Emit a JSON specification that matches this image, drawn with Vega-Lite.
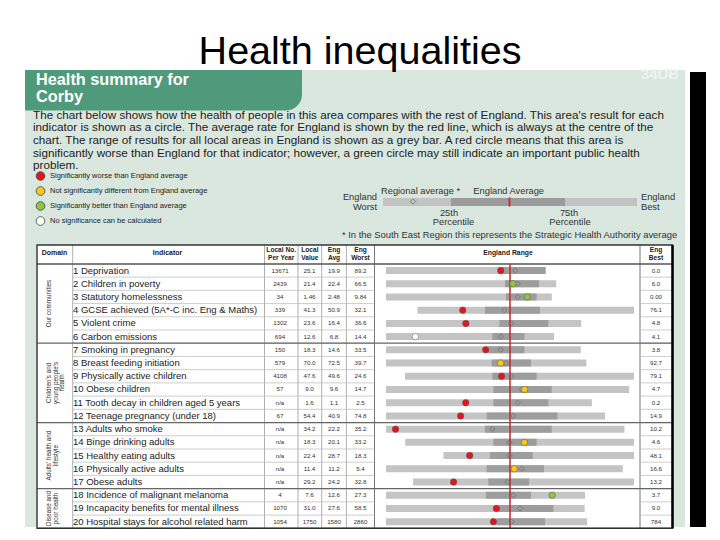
{
"$schema":"https://vega.github.io/schema/vega-lite/v6.json",
"width":720,"height":540,"padding":0,"autosize":{"type":"none"},
"background":"white",
"config":{"font":"Liberation Sans","view":{"stroke":null},"axis":{"disable":true}},
"resolve":{"scale":{"x":"independent","y":"independent"}},
"datasets":{
"one":[{}],
"ind":[
{"n":1,"label":"1 Deprivation","domain":"Our communities","localNo":"13671","localValue":"25.1","engAvg":"19.9","engWorst":"89.2","engBest":"0.0","sig":"Significantly worse than England average","worstN":-1,"p25N":-0.08,"p75N":0.287,"bestN":0.287,"regN":0.043,"localN":-0.075},
{"n":2,"label":"2 Children in poverty","domain":"Our communities","localNo":"2439","localValue":"21.4","engAvg":"22.4","engWorst":"66.5","engBest":"6.0","sig":"Significantly better than England average","worstN":-1,"p25N":-0.04,"p75N":0.234,"bestN":0.372,"regN":0.062,"localN":0.023},
{"n":3,"label":"3 Statutory homelessness","domain":"Our communities","localNo":"34","localValue":"1.46","engAvg":"2.48","engWorst":"9.84","engBest":"0.00","sig":"Significantly better than England average","worstN":-1,"p25N":-0.032,"p75N":0.215,"bestN":0.337,"regN":0.062,"localN":0.139},
{"n":4,"label":"4 GCSE achieved (5A*-C inc. Eng & Maths)","domain":"Our communities","localNo":"339","localValue":"41.3","engAvg":"50.9","engWorst":"32.1","engBest":"76.1","sig":"Significantly worse than England average","worstN":-0.746,"p25N":-0.202,"p75N":0.242,"bestN":1,"regN":-0.046,"localN":-0.381},
{"n":5,"label":"5 Violent crime","domain":"Our communities","localNo":"1302","localValue":"23.6","engAvg":"16.4","engWorst":"36.6","engBest":"4.8","sig":"Significantly worse than England average","worstN":-1,"p25N":-0.086,"p75N":0.309,"bestN":0.574,"regN":0.011,"localN":-0.356},
{"n":6,"label":"6 Carbon emissions","domain":"Our communities","localNo":"694","localValue":"12.6","engAvg":"6.8","engWorst":"14.4","engBest":"4.1","sig":"No significance can be calculated","worstN":-1,"p25N":-0.142,"p75N":0.116,"bestN":0.355,"regN":-0.073,"localN":-0.763},
{"n":7,"label":"7 Smoking in pregnancy","domain":"Children's and\nyoung people's\nhealth","localNo":"150","localValue":"18.3","engAvg":"14.6","engWorst":"33.5","engBest":"3.8","sig":"Significantly worse than England average","worstN":-1,"p25N":-0.175,"p75N":0.116,"bestN":0.571,"regN":-0.075,"localN":-0.196},
{"n":8,"label":"8 Breast feeding initiation","domain":"Children's and\nyoung people's\nhealth","localNo":"579","localValue":"70.0","engAvg":"72.5","engWorst":"39.7","engBest":"92.7","sig":"Not significantly different from England average","worstN":-1,"p25N":-0.148,"p75N":0.169,"bestN":0.616,"regN":-0.032,"localN":-0.076},
{"n":9,"label":"9 Physically active children","domain":"Children's and\nyoung people's\nhealth","localNo":"4108","localValue":"47.6","engAvg":"49.6","engWorst":"24.6","engBest":"79.1","sig":"Significantly worse than England average","worstN":-0.847,"p25N":-0.142,"p75N":0.215,"bestN":1,"regN":0.011,"localN":-0.068},
{"n":10,"label":"10 Obese children","domain":"Children's and\nyoung people's\nhealth","localNo":"57","localValue":"9.0","engAvg":"9.6","engWorst":"14.7","engBest":"4.7","sig":"Not significantly different from England average","worstN":-1,"p25N":-0.134,"p75N":0.336,"bestN":0.961,"regN":0.094,"localN":0.118},
{"n":11,"label":"11 Tooth decay in children aged 5 years","domain":"Children's and\nyoung people's\nhealth","localNo":"n/a","localValue":"1.6","engAvg":"1.1","engWorst":"2.5","engBest":"0.2","sig":"Significantly worse than England average","worstN":-1,"p25N":-0.134,"p75N":0.309,"bestN":0.66,"regN":0.062,"localN":-0.357},
{"n":12,"label":"12 Teenage pregnancy (under 18)","domain":"Children's and\nyoung people's\nhealth","localNo":"67","localValue":"54.4","engAvg":"40.9","engWorst":"74.8","engBest":"14.9","sig":"Significantly worse than England average","worstN":-1,"p25N":-0.188,"p75N":0.382,"bestN":0.767,"regN":0.027,"localN":-0.398},
{"n":13,"label":"13 Adults who smoke","domain":"Adults' health and\nlifestyle","localNo":"n/a","localValue":"34.2","engAvg":"22.2","engWorst":"35.2","engBest":"10.2","sig":"Significantly worse than England average","worstN":-1,"p25N":-0.202,"p75N":0.336,"bestN":0.923,"regN":-0.142,"localN":-0.923},
{"n":14,"label":"14 Binge drinking adults","domain":"Adults' health and\nlifestyle","localNo":"n/a","localValue":"18.3","engAvg":"20.1","engWorst":"33.2","engBest":"4.6","sig":"Not significantly different from England average","worstN":-0.845,"p25N":-0.134,"p75N":0.215,"bestN":1,"regN":-0.005,"localN":0.116},
{"n":15,"label":"15 Healthy eating adults","domain":"Adults' health and\nlifestyle","localNo":"n/a","localValue":"22.4","engAvg":"28.7","engWorst":"18.3","engBest":"48.1","sig":"Significantly worse than England average","worstN":-0.536,"p25N":-0.161,"p75N":0.183,"bestN":1,"regN":-0.005,"localN":-0.325},
{"n":16,"label":"16 Physically active adults","domain":"Adults' health and\nlifestyle","localNo":"n/a","localValue":"11.4","engAvg":"11.2","engWorst":"5.4","engBest":"16.6","sig":"Not significantly different from England average","worstN":-1,"p25N":-0.188,"p75N":0.274,"bestN":0.91,"regN":0.094,"localN":0.034},
{"n":17,"label":"17 Obese adults","domain":"Adults' health and\nlifestyle","localNo":"n/a","localValue":"29.2","engAvg":"24.2","engWorst":"32.8","engBest":"13.2","sig":"Significantly worse than England average","worstN":-0.782,"p25N":-0.175,"p75N":0.153,"bestN":1,"regN":-0.022,"localN":-0.455},
{"n":18,"label":"18 Incidence of malignant melanoma","domain":"Disease and\npoor health","localNo":"4","localValue":"7.6","engAvg":"12.6","engWorst":"27.3","engBest":"3.7","sig":"Significantly better than England average","worstN":-1,"p25N":-0.194,"p75N":0.169,"bestN":0.605,"regN":0.027,"localN":0.34},
{"n":19,"label":"19 Incapacity benefits for mental illness","domain":"Disease and\npoor health","localNo":"1070","localValue":"31.0","engAvg":"27.6","engWorst":"58.5","engBest":"9.0","sig":"Significantly worse than England average","worstN":-1,"p25N":-0.094,"p75N":0.349,"bestN":0.602,"regN":0.081,"localN":-0.11},
{"n":20,"label":"20 Hospital stays for alcohol related harm","domain":"Disease and\npoor health","localNo":"1054","localValue":"1750","engAvg":"1580","engWorst":"2860","engBest":"784","sig":"Significantly worse than England average","worstN":-1,"p25N":-0.108,"p75N":0.282,"bestN":0.622,"regN":0.013,"localN":-0.133}
]},
"layer":[
{"data":{"name":"one"},"mark":{"type":"rect","color":"#d9e7de"},"encoding":{"x":{"datum":25,"type":"quantitative","scale":{"domain":[0,720],"range":[0,720],"nice":false,"zero":false}},"x2":{"datum":685},"y":{"datum":70,"type":"quantitative","scale":{"domain":[0,540],"range":[0,540],"nice":false,"zero":false}},"y2":{"datum":527}}},
{"data":{"name":"one"},"mark":{"type":"rect","color":"#4f9a7a","cornerRadiusBottomRight":16},"encoding":{"x":{"datum":25,"type":"quantitative","scale":{"domain":[0,720],"range":[0,720],"nice":false,"zero":false}},"x2":{"datum":302},"y":{"datum":70,"type":"quantitative","scale":{"domain":[0,540],"range":[0,540],"nice":false,"zero":false}},"y2":{"datum":110.5}}},
{"data":{"name":"one"},"mark":{"type":"rect","color":"#000000"},"encoding":{"x":{"datum":690,"type":"quantitative","scale":{"domain":[0,720],"range":[0,720],"nice":false,"zero":false}},"x2":{"datum":706},"y":{"datum":72,"type":"quantitative","scale":{"domain":[0,540],"range":[0,540],"nice":false,"zero":false}},"y2":{"datum":527}}},
{"data":{"name":"one"},"mark":{"type":"text","text":"34UB","fontSize":15,"fontWeight":"bold","align":"center","baseline":"alphabetic","color":"#eef4f0"},"encoding":{"x":{"datum":660,"type":"quantitative","scale":{"domain":[0,720],"range":[0,720],"nice":false,"zero":false}},"y":{"datum":79,"type":"quantitative","scale":{"domain":[0,540],"range":[0,540],"nice":false,"zero":false}}}},
{"data":{"name":"one"},"mark":{"type":"text","text":"Health inequalities","fontSize":39.5,"align":"center","baseline":"alphabetic","color":"#000000"},"encoding":{"x":{"datum":360,"type":"quantitative","scale":{"domain":[0,720],"range":[0,720],"nice":false,"zero":false}},"y":{"datum":64,"type":"quantitative","scale":{"domain":[0,540],"range":[0,540],"nice":false,"zero":false}}}},
{"data":{"name":"one"},"mark":{"type":"text","text":"Health summary for","fontSize":16.3,"fontWeight":"bold","align":"left","baseline":"middle","color":"#ffffff"},"encoding":{"x":{"datum":36,"type":"quantitative","scale":{"domain":[0,720],"range":[0,720],"nice":false,"zero":false}},"y":{"datum":80,"type":"quantitative","scale":{"domain":[0,540],"range":[0,540],"nice":false,"zero":false}}}},
{"data":{"name":"one"},"mark":{"type":"text","text":"Corby","fontSize":16.3,"fontWeight":"bold","align":"left","baseline":"middle","color":"#ffffff"},"encoding":{"x":{"datum":36,"type":"quantitative","scale":{"domain":[0,720],"range":[0,720],"nice":false,"zero":false}},"y":{"datum":96.5,"type":"quantitative","scale":{"domain":[0,540],"range":[0,540],"nice":false,"zero":false}}}},
{"data":{"name":"one"},"mark":{"type":"text","text":"The chart below shows how the health of people in this area compares with the rest of England. This area's result for each","fontSize":11.7,"align":"left","baseline":"middle","color":"#222222"},"encoding":{"x":{"datum":33,"type":"quantitative","scale":{"domain":[0,720],"range":[0,720],"nice":false,"zero":false}},"y":{"datum":114.5,"type":"quantitative","scale":{"domain":[0,540],"range":[0,540],"nice":false,"zero":false}}}},
{"data":{"name":"one"},"mark":{"type":"text","text":"indicator is shown as a circle. The average rate for England is shown by the red line, which is always at the centre of the","fontSize":11.7,"align":"left","baseline":"middle","color":"#222222"},"encoding":{"x":{"datum":33,"type":"quantitative","scale":{"domain":[0,720],"range":[0,720],"nice":false,"zero":false}},"y":{"datum":127.2,"type":"quantitative","scale":{"domain":[0,540],"range":[0,540],"nice":false,"zero":false}}}},
{"data":{"name":"one"},"mark":{"type":"text","text":"chart. The range of results for all local areas in England is shown as a grey bar. A red circle means that this area is","fontSize":11.7,"align":"left","baseline":"middle","color":"#222222"},"encoding":{"x":{"datum":33,"type":"quantitative","scale":{"domain":[0,720],"range":[0,720],"nice":false,"zero":false}},"y":{"datum":139.9,"type":"quantitative","scale":{"domain":[0,540],"range":[0,540],"nice":false,"zero":false}}}},
{"data":{"name":"one"},"mark":{"type":"text","text":"significantly worse than England for that indicator; however, a green circle may still indicate an important public health","fontSize":11.7,"align":"left","baseline":"middle","color":"#222222"},"encoding":{"x":{"datum":33,"type":"quantitative","scale":{"domain":[0,720],"range":[0,720],"nice":false,"zero":false}},"y":{"datum":152.6,"type":"quantitative","scale":{"domain":[0,540],"range":[0,540],"nice":false,"zero":false}}}},
{"data":{"name":"one"},"mark":{"type":"text","text":"problem.","fontSize":11.7,"align":"left","baseline":"middle","color":"#222222"},"encoding":{"x":{"datum":33,"type":"quantitative","scale":{"domain":[0,720],"range":[0,720],"nice":false,"zero":false}},"y":{"datum":165.2,"type":"quantitative","scale":{"domain":[0,540],"range":[0,540],"nice":false,"zero":false}}}},
{"data":{"name":"one"},"mark":{"type":"rule","color":"#c3c3c3","strokeWidth":8},"encoding":{"x":{"datum":383,"type":"quantitative","scale":{"domain":[0,720],"range":[0,720],"nice":false,"zero":false}},"x2":{"datum":637},"y":{"datum":202,"type":"quantitative","scale":{"domain":[0,540],"range":[0,540],"nice":false,"zero":false}}}},
{"data":{"name":"one"},"mark":{"type":"rule","color":"#9b9b9b","strokeWidth":8},"encoding":{"x":{"datum":451,"type":"quantitative","scale":{"domain":[0,720],"range":[0,720],"nice":false,"zero":false}},"x2":{"datum":565},"y":{"datum":202,"type":"quantitative","scale":{"domain":[0,540],"range":[0,540],"nice":false,"zero":false}}}},
{"data":{"name":"one"},"mark":{"type":"rule","color":"#d2232a","strokeWidth":1.8},"encoding":{"x":{"datum":509.5,"type":"quantitative","scale":{"domain":[0,720],"range":[0,720],"nice":false,"zero":false}},"y":{"datum":197.5,"type":"quantitative","scale":{"domain":[0,540],"range":[0,540],"nice":false,"zero":false}},"y2":{"datum":206.5}}},
{"data":{"name":"one"},"mark":{"type":"point","shape":"diamond","size":30,"filled":false,"stroke":"#666666","strokeWidth":1},"encoding":{"x":{"datum":413,"type":"quantitative","scale":{"domain":[0,720],"range":[0,720],"nice":false,"zero":false}},"y":{"datum":201.5,"type":"quantitative","scale":{"domain":[0,540],"range":[0,540],"nice":false,"zero":false}}}},
{"data":{"name":"one"},"mark":{"type":"text","text":"England","fontSize":9.3,"align":"right","baseline":"middle","color":"#333333"},"encoding":{"x":{"datum":377,"type":"quantitative","scale":{"domain":[0,720],"range":[0,720],"nice":false,"zero":false}},"y":{"datum":196.7,"type":"quantitative","scale":{"domain":[0,540],"range":[0,540],"nice":false,"zero":false}}}},
{"data":{"name":"one"},"mark":{"type":"text","text":"Worst","fontSize":9.3,"align":"right","baseline":"middle","color":"#333333"},"encoding":{"x":{"datum":377,"type":"quantitative","scale":{"domain":[0,720],"range":[0,720],"nice":false,"zero":false}},"y":{"datum":206.7,"type":"quantitative","scale":{"domain":[0,540],"range":[0,540],"nice":false,"zero":false}}}},
{"data":{"name":"one"},"mark":{"type":"text","text":"Regional average *","fontSize":9.3,"align":"left","baseline":"middle","color":"#333333"},"encoding":{"x":{"datum":381,"type":"quantitative","scale":{"domain":[0,720],"range":[0,720],"nice":false,"zero":false}},"y":{"datum":190.5,"type":"quantitative","scale":{"domain":[0,540],"range":[0,540],"nice":false,"zero":false}}}},
{"data":{"name":"one"},"mark":{"type":"text","text":"England Average","fontSize":9.3,"align":"center","baseline":"middle","color":"#333333"},"encoding":{"x":{"datum":508.7,"type":"quantitative","scale":{"domain":[0,720],"range":[0,720],"nice":false,"zero":false}},"y":{"datum":190.5,"type":"quantitative","scale":{"domain":[0,540],"range":[0,540],"nice":false,"zero":false}}}},
{"data":{"name":"one"},"mark":{"type":"text","text":"25th","fontSize":9.3,"align":"center","baseline":"middle","color":"#333333"},"encoding":{"x":{"datum":449,"type":"quantitative","scale":{"domain":[0,720],"range":[0,720],"nice":false,"zero":false}},"y":{"datum":213.3,"type":"quantitative","scale":{"domain":[0,540],"range":[0,540],"nice":false,"zero":false}}}},
{"data":{"name":"one"},"mark":{"type":"text","text":"Percentile","fontSize":9.3,"align":"center","baseline":"middle","color":"#333333"},"encoding":{"x":{"datum":453.5,"type":"quantitative","scale":{"domain":[0,720],"range":[0,720],"nice":false,"zero":false}},"y":{"datum":222.3,"type":"quantitative","scale":{"domain":[0,540],"range":[0,540],"nice":false,"zero":false}}}},
{"data":{"name":"one"},"mark":{"type":"text","text":"75th","fontSize":9.3,"align":"center","baseline":"middle","color":"#333333"},"encoding":{"x":{"datum":569,"type":"quantitative","scale":{"domain":[0,720],"range":[0,720],"nice":false,"zero":false}},"y":{"datum":213.3,"type":"quantitative","scale":{"domain":[0,540],"range":[0,540],"nice":false,"zero":false}}}},
{"data":{"name":"one"},"mark":{"type":"text","text":"Percentile","fontSize":9.3,"align":"center","baseline":"middle","color":"#333333"},"encoding":{"x":{"datum":570,"type":"quantitative","scale":{"domain":[0,720],"range":[0,720],"nice":false,"zero":false}},"y":{"datum":222.3,"type":"quantitative","scale":{"domain":[0,540],"range":[0,540],"nice":false,"zero":false}}}},
{"data":{"name":"one"},"mark":{"type":"text","text":"England","fontSize":9.3,"align":"left","baseline":"middle","color":"#333333"},"encoding":{"x":{"datum":641,"type":"quantitative","scale":{"domain":[0,720],"range":[0,720],"nice":false,"zero":false}},"y":{"datum":196.7,"type":"quantitative","scale":{"domain":[0,540],"range":[0,540],"nice":false,"zero":false}}}},
{"data":{"name":"one"},"mark":{"type":"text","text":"Best","fontSize":9.3,"align":"left","baseline":"middle","color":"#333333"},"encoding":{"x":{"datum":641,"type":"quantitative","scale":{"domain":[0,720],"range":[0,720],"nice":false,"zero":false}},"y":{"datum":206.7,"type":"quantitative","scale":{"domain":[0,540],"range":[0,540],"nice":false,"zero":false}}}},
{"data":{"name":"one"},"mark":{"type":"text","text":"* In the South East Region this represents the Strategic Health Authority average","fontSize":9.4,"align":"left","baseline":"middle","color":"#333333"},"encoding":{"x":{"datum":342,"type":"quantitative","scale":{"domain":[0,720],"range":[0,720],"nice":false,"zero":false}},"y":{"datum":235,"type":"quantitative","scale":{"domain":[0,540],"range":[0,540],"nice":false,"zero":false}}}},
{"data":{"name":"one"},"mark":{"type":"rect","color":"#ffffff"},"encoding":{"x":{"datum":37,"type":"quantitative","scale":{"domain":[0,720],"range":[0,720],"nice":false,"zero":false}},"x2":{"datum":672.5},"y":{"datum":245,"type":"quantitative","scale":{"domain":[0,540],"range":[0,540],"nice":false,"zero":false}},"y2":{"datum":528.3}}},
{"data":{"name":"one"},"mark":{"type":"rule","color":"#9a9a9a","strokeWidth":0.8},"encoding":{"x":{"datum":72.7,"type":"quantitative","scale":{"domain":[0,720],"range":[0,720],"nice":false,"zero":false}},"y":{"datum":245,"type":"quantitative","scale":{"domain":[0,540],"range":[0,540],"nice":false,"zero":false}},"y2":{"datum":528.3}}},
{"data":{"name":"one"},"mark":{"type":"rule","color":"#9a9a9a","strokeWidth":0.8},"encoding":{"x":{"datum":264.5,"type":"quantitative","scale":{"domain":[0,720],"range":[0,720],"nice":false,"zero":false}},"y":{"datum":245,"type":"quantitative","scale":{"domain":[0,540],"range":[0,540],"nice":false,"zero":false}},"y2":{"datum":528.3}}},
{"data":{"name":"one"},"mark":{"type":"rule","color":"#9a9a9a","strokeWidth":0.8},"encoding":{"x":{"datum":298,"type":"quantitative","scale":{"domain":[0,720],"range":[0,720],"nice":false,"zero":false}},"y":{"datum":245,"type":"quantitative","scale":{"domain":[0,540],"range":[0,540],"nice":false,"zero":false}},"y2":{"datum":528.3}}},
{"data":{"name":"one"},"mark":{"type":"rule","color":"#9a9a9a","strokeWidth":0.8},"encoding":{"x":{"datum":321.7,"type":"quantitative","scale":{"domain":[0,720],"range":[0,720],"nice":false,"zero":false}},"y":{"datum":245,"type":"quantitative","scale":{"domain":[0,540],"range":[0,540],"nice":false,"zero":false}},"y2":{"datum":528.3}}},
{"data":{"name":"one"},"mark":{"type":"rule","color":"#9a9a9a","strokeWidth":0.8},"encoding":{"x":{"datum":346.4,"type":"quantitative","scale":{"domain":[0,720],"range":[0,720],"nice":false,"zero":false}},"y":{"datum":245,"type":"quantitative","scale":{"domain":[0,540],"range":[0,540],"nice":false,"zero":false}},"y2":{"datum":528.3}}},
{"data":{"name":"one"},"mark":{"type":"rule","color":"#777777","strokeWidth":1},"encoding":{"x":{"datum":374.5,"type":"quantitative","scale":{"domain":[0,720],"range":[0,720],"nice":false,"zero":false}},"y":{"datum":245,"type":"quantitative","scale":{"domain":[0,540],"range":[0,540],"nice":false,"zero":false}},"y2":{"datum":528.3}}},
{"data":{"name":"one"},"mark":{"type":"rule","color":"#777777","strokeWidth":1},"encoding":{"x":{"datum":640,"type":"quantitative","scale":{"domain":[0,720],"range":[0,720],"nice":false,"zero":false}},"y":{"datum":245,"type":"quantitative","scale":{"domain":[0,540],"range":[0,540],"nice":false,"zero":false}},"y2":{"datum":528.3}}},
{"data":{"name":"one"},"mark":{"type":"rule","color":"#555555","strokeWidth":1.3},"encoding":{"x":{"datum":37,"type":"quantitative","scale":{"domain":[0,720],"range":[0,720],"nice":false,"zero":false}},"x2":{"datum":672.5},"y":{"datum":264,"type":"quantitative","scale":{"domain":[0,540],"range":[0,540],"nice":false,"zero":false}}}},
{"data":{"name":"one"},"mark":{"type":"text","text":"Domain","fontSize":7,"fontWeight":"bold","align":"center","baseline":"middle","color":"#222222"},"encoding":{"x":{"datum":54.5,"type":"quantitative","scale":{"domain":[0,720],"range":[0,720],"nice":false,"zero":false}},"y":{"datum":253,"type":"quantitative","scale":{"domain":[0,540],"range":[0,540],"nice":false,"zero":false}}}},
{"data":{"name":"one"},"mark":{"type":"text","text":"Indicator","fontSize":7,"fontWeight":"bold","align":"center","baseline":"middle","color":"#222222"},"encoding":{"x":{"datum":167.5,"type":"quantitative","scale":{"domain":[0,720],"range":[0,720],"nice":false,"zero":false}},"y":{"datum":253,"type":"quantitative","scale":{"domain":[0,540],"range":[0,540],"nice":false,"zero":false}}}},
{"data":{"name":"one"},"mark":{"type":"text","text":"Local No.","fontSize":6.6,"fontWeight":"bold","align":"center","baseline":"middle","color":"#222222"},"encoding":{"x":{"datum":281.2,"type":"quantitative","scale":{"domain":[0,720],"range":[0,720],"nice":false,"zero":false}},"y":{"datum":250,"type":"quantitative","scale":{"domain":[0,540],"range":[0,540],"nice":false,"zero":false}}}},
{"data":{"name":"one"},"mark":{"type":"text","text":"Per Year","fontSize":6.6,"fontWeight":"bold","align":"center","baseline":"middle","color":"#222222"},"encoding":{"x":{"datum":281.2,"type":"quantitative","scale":{"domain":[0,720],"range":[0,720],"nice":false,"zero":false}},"y":{"datum":257.5,"type":"quantitative","scale":{"domain":[0,540],"range":[0,540],"nice":false,"zero":false}}}},
{"data":{"name":"one"},"mark":{"type":"text","text":"Local","fontSize":6.6,"fontWeight":"bold","align":"center","baseline":"middle","color":"#222222"},"encoding":{"x":{"datum":309.9,"type":"quantitative","scale":{"domain":[0,720],"range":[0,720],"nice":false,"zero":false}},"y":{"datum":250,"type":"quantitative","scale":{"domain":[0,540],"range":[0,540],"nice":false,"zero":false}}}},
{"data":{"name":"one"},"mark":{"type":"text","text":"Value","fontSize":6.6,"fontWeight":"bold","align":"center","baseline":"middle","color":"#222222"},"encoding":{"x":{"datum":309.9,"type":"quantitative","scale":{"domain":[0,720],"range":[0,720],"nice":false,"zero":false}},"y":{"datum":257.5,"type":"quantitative","scale":{"domain":[0,540],"range":[0,540],"nice":false,"zero":false}}}},
{"data":{"name":"one"},"mark":{"type":"text","text":"Eng","fontSize":6.6,"fontWeight":"bold","align":"center","baseline":"middle","color":"#222222"},"encoding":{"x":{"datum":334,"type":"quantitative","scale":{"domain":[0,720],"range":[0,720],"nice":false,"zero":false}},"y":{"datum":250,"type":"quantitative","scale":{"domain":[0,540],"range":[0,540],"nice":false,"zero":false}}}},
{"data":{"name":"one"},"mark":{"type":"text","text":"Avg","fontSize":6.6,"fontWeight":"bold","align":"center","baseline":"middle","color":"#222222"},"encoding":{"x":{"datum":334,"type":"quantitative","scale":{"domain":[0,720],"range":[0,720],"nice":false,"zero":false}},"y":{"datum":257.5,"type":"quantitative","scale":{"domain":[0,540],"range":[0,540],"nice":false,"zero":false}}}},
{"data":{"name":"one"},"mark":{"type":"text","text":"Eng","fontSize":6.6,"fontWeight":"bold","align":"center","baseline":"middle","color":"#222222"},"encoding":{"x":{"datum":360.5,"type":"quantitative","scale":{"domain":[0,720],"range":[0,720],"nice":false,"zero":false}},"y":{"datum":250,"type":"quantitative","scale":{"domain":[0,540],"range":[0,540],"nice":false,"zero":false}}}},
{"data":{"name":"one"},"mark":{"type":"text","text":"Worst","fontSize":6.6,"fontWeight":"bold","align":"center","baseline":"middle","color":"#222222"},"encoding":{"x":{"datum":360.5,"type":"quantitative","scale":{"domain":[0,720],"range":[0,720],"nice":false,"zero":false}},"y":{"datum":257.5,"type":"quantitative","scale":{"domain":[0,540],"range":[0,540],"nice":false,"zero":false}}}},
{"data":{"name":"one"},"mark":{"type":"text","text":"England Range","fontSize":6.8,"fontWeight":"bold","align":"center","baseline":"middle","color":"#222222"},"encoding":{"x":{"datum":508,"type":"quantitative","scale":{"domain":[0,720],"range":[0,720],"nice":false,"zero":false}},"y":{"datum":253,"type":"quantitative","scale":{"domain":[0,540],"range":[0,540],"nice":false,"zero":false}}}},
{"data":{"name":"one"},"mark":{"type":"text","text":"Eng","fontSize":6.6,"fontWeight":"bold","align":"center","baseline":"middle","color":"#222222"},"encoding":{"x":{"datum":656,"type":"quantitative","scale":{"domain":[0,720],"range":[0,720],"nice":false,"zero":false}},"y":{"datum":250,"type":"quantitative","scale":{"domain":[0,540],"range":[0,540],"nice":false,"zero":false}}}},
{"data":{"name":"one"},"mark":{"type":"text","text":"Best","fontSize":6.6,"fontWeight":"bold","align":"center","baseline":"middle","color":"#222222"},"encoding":{"x":{"datum":656,"type":"quantitative","scale":{"domain":[0,720],"range":[0,720],"nice":false,"zero":false}},"y":{"datum":257.5,"type":"quantitative","scale":{"domain":[0,540],"range":[0,540],"nice":false,"zero":false}}}},
{"data":{"name":"ind"},"mark":{"type":"rule","color":"#b8b8b8","strokeWidth":0.7,"yOffset":6.61},"encoding":{"x":{"datum":72.7,"type":"quantitative","scale":{"domain":[0,720],"range":[0,720],"nice":false,"zero":false}},"x2":{"datum":374.5},"y":{"field":"n","type":"quantitative","scale":{"domain":[0.5,20.5],"range":[263.9,528.3],"nice":false,"zero":false}}}},
{"data":{"name":"ind"},"mark":{"type":"rule","color":"#b8b8b8","strokeWidth":0.7,"yOffset":6.61},"encoding":{"x":{"datum":640,"type":"quantitative","scale":{"domain":[0,720],"range":[0,720],"nice":false,"zero":false}},"x2":{"datum":672.5},"y":{"field":"n","type":"quantitative","scale":{"domain":[0.5,20.5],"range":[263.9,528.3],"nice":false,"zero":false}}}},
{"data":{"name":"ind"},"mark":{"type":"rule","color":"#666666","strokeWidth":1.2,"yOffset":6.61},"encoding":{"x":{"datum":37,"type":"quantitative","scale":{"domain":[0,720],"range":[0,720],"nice":false,"zero":false}},"x2":{"datum":672.5},"y":{"aggregate":"max","field":"n","type":"quantitative","scale":{"domain":[0.5,20.5],"range":[263.9,528.3],"nice":false,"zero":false}},"detail":{"field":"domain","type":"nominal"}}},
{"data":{"name":"ind"},"mark":{"type":"text","fontSize":6.3,"angle":270,"lineBreak":"\n","lineHeight":6.5,"align":"center","baseline":"middle","color":"#333333"},"encoding":{"x":{"datum":49,"type":"quantitative","scale":{"domain":[0,720],"range":[0,720],"nice":false,"zero":false}},"y":{"aggregate":"mean","field":"n","type":"quantitative","scale":{"domain":[0.5,20.5],"range":[263.9,528.3],"nice":false,"zero":false}},"text":{"field":"domain","type":"nominal"}}},
{"data":{"name":"ind"},"mark":{"type":"text","fontSize":9.5,"align":"left","baseline":"middle","color":"#222222"},"encoding":{"x":{"datum":73,"type":"quantitative","scale":{"domain":[0,720],"range":[0,720],"nice":false,"zero":false}},"y":{"field":"n","type":"quantitative","scale":{"domain":[0.5,20.5],"range":[263.9,528.3],"nice":false,"zero":false}},"text":{"field":"label","type":"nominal"}}},
{"data":{"name":"ind"},"mark":{"type":"text","fontSize":6.2,"align":"center","baseline":"middle","color":"#333333"},"encoding":{"x":{"datum":280,"type":"quantitative","scale":{"domain":[0,720],"range":[0,720],"nice":false,"zero":false}},"y":{"field":"n","type":"quantitative","scale":{"domain":[0.5,20.5],"range":[263.9,528.3],"nice":false,"zero":false}},"text":{"field":"localNo","type":"nominal"}}},
{"data":{"name":"ind"},"mark":{"type":"text","fontSize":6.2,"align":"center","baseline":"middle","color":"#333333"},"encoding":{"x":{"datum":309.5,"type":"quantitative","scale":{"domain":[0,720],"range":[0,720],"nice":false,"zero":false}},"y":{"field":"n","type":"quantitative","scale":{"domain":[0.5,20.5],"range":[263.9,528.3],"nice":false,"zero":false}},"text":{"field":"localValue","type":"nominal"}}},
{"data":{"name":"ind"},"mark":{"type":"text","fontSize":6.2,"align":"center","baseline":"middle","color":"#333333"},"encoding":{"x":{"datum":334,"type":"quantitative","scale":{"domain":[0,720],"range":[0,720],"nice":false,"zero":false}},"y":{"field":"n","type":"quantitative","scale":{"domain":[0.5,20.5],"range":[263.9,528.3],"nice":false,"zero":false}},"text":{"field":"engAvg","type":"nominal"}}},
{"data":{"name":"ind"},"mark":{"type":"text","fontSize":6.2,"align":"center","baseline":"middle","color":"#333333"},"encoding":{"x":{"datum":360.5,"type":"quantitative","scale":{"domain":[0,720],"range":[0,720],"nice":false,"zero":false}},"y":{"field":"n","type":"quantitative","scale":{"domain":[0.5,20.5],"range":[263.9,528.3],"nice":false,"zero":false}},"text":{"field":"engWorst","type":"nominal"}}},
{"data":{"name":"ind"},"mark":{"type":"text","fontSize":6.2,"align":"center","baseline":"middle","color":"#333333"},"encoding":{"x":{"datum":656,"type":"quantitative","scale":{"domain":[0,720],"range":[0,720],"nice":false,"zero":false}},"y":{"field":"n","type":"quantitative","scale":{"domain":[0.5,20.5],"range":[263.9,528.3],"nice":false,"zero":false}},"text":{"field":"engBest","type":"nominal"}}},
{"data":{"name":"ind"},"mark":{"type":"rule","color":"#c4c4c4","strokeWidth":7},"encoding":{"x":{"field":"worstN","type":"quantitative","scale":{"domain":[-1,1],"range":[386,634],"nice":false,"zero":false}},"x2":{"field":"bestN"},"y":{"field":"n","type":"quantitative","scale":{"domain":[0.5,20.5],"range":[263.9,528.3],"nice":false,"zero":false}}}},
{"data":{"name":"ind"},"mark":{"type":"rule","color":"#9d9d9d","strokeWidth":7},"encoding":{"x":{"field":"p25N","type":"quantitative","scale":{"domain":[-1,1],"range":[386,634],"nice":false,"zero":false}},"x2":{"field":"p75N"},"y":{"field":"n","type":"quantitative","scale":{"domain":[0.5,20.5],"range":[263.9,528.3],"nice":false,"zero":false}}}},
{"data":{"name":"one"},"mark":{"type":"rule","color":"#c0282d","strokeWidth":1.5},"encoding":{"x":{"datum":0,"type":"quantitative","scale":{"domain":[-1,1],"range":[386,634],"nice":false,"zero":false}},"y":{"datum":0.5,"type":"quantitative","scale":{"domain":[0.5,20.5],"range":[263.9,528.3],"nice":false,"zero":false}},"y2":{"datum":20.5}}},
{"data":{"name":"ind"},"mark":{"type":"point","shape":"diamond","size":28,"filled":false,"stroke":"#6a6a6a","strokeWidth":1},"encoding":{"x":{"field":"regN","type":"quantitative","scale":{"domain":[-1,1],"range":[386,634],"nice":false,"zero":false}},"y":{"field":"n","type":"quantitative","scale":{"domain":[0.5,20.5],"range":[263.9,528.3],"nice":false,"zero":false}}}},
{"data":{"name":"ind"},"mark":{"type":"point","shape":"circle","size":42,"filled":true,"opacity":1,"stroke":"#555555","strokeWidth":0.5},"encoding":{"x":{"field":"localN","type":"quantitative","scale":{"domain":[-1,1],"range":[386,634],"nice":false,"zero":false}},"y":{"field":"n","type":"quantitative","scale":{"domain":[0.5,20.5],"range":[263.9,528.3],"nice":false,"zero":false}},"color":{"field":"sig","type":"nominal","scale":{"domain":["Significantly worse than England average","Not significantly different from England average","Significantly better than England average","No significance can be calculated"],"range":["#e3141c","#f8c91c","#8dc63f","#ffffff"]},"legend":{"orient":"none","legendX":35.5,"legendY":171,"title":null,"symbolType":"circle","symbolSize":75,"symbolStrokeColor":"#444444","symbolStrokeWidth":0.8,"labelFontSize":7.5,"labelColor":"#222222","rowPadding":3,"labelOffset":4.5,"padding":0,"labelLimit":400}}}},
{"data":{"name":"one"},"mark":{"type":"rect","fill":null,"stroke":"#333333","strokeWidth":1.4},"encoding":{"x":{"datum":37,"type":"quantitative","scale":{"domain":[0,720],"range":[0,720],"nice":false,"zero":false}},"x2":{"datum":672.5},"y":{"datum":245,"type":"quantitative","scale":{"domain":[0,540],"range":[0,540],"nice":false,"zero":false}},"y2":{"datum":528.3}}},
{"data":{"name":"one"},"mark":{"type":"rule","color":"#000000","strokeWidth":2.5},"encoding":{"x":{"datum":672.5,"type":"quantitative","scale":{"domain":[0,720],"range":[0,720],"nice":false,"zero":false}},"y":{"datum":245,"type":"quantitative","scale":{"domain":[0,540],"range":[0,540],"nice":false,"zero":false}},"y2":{"datum":528.3}}}
]
}
